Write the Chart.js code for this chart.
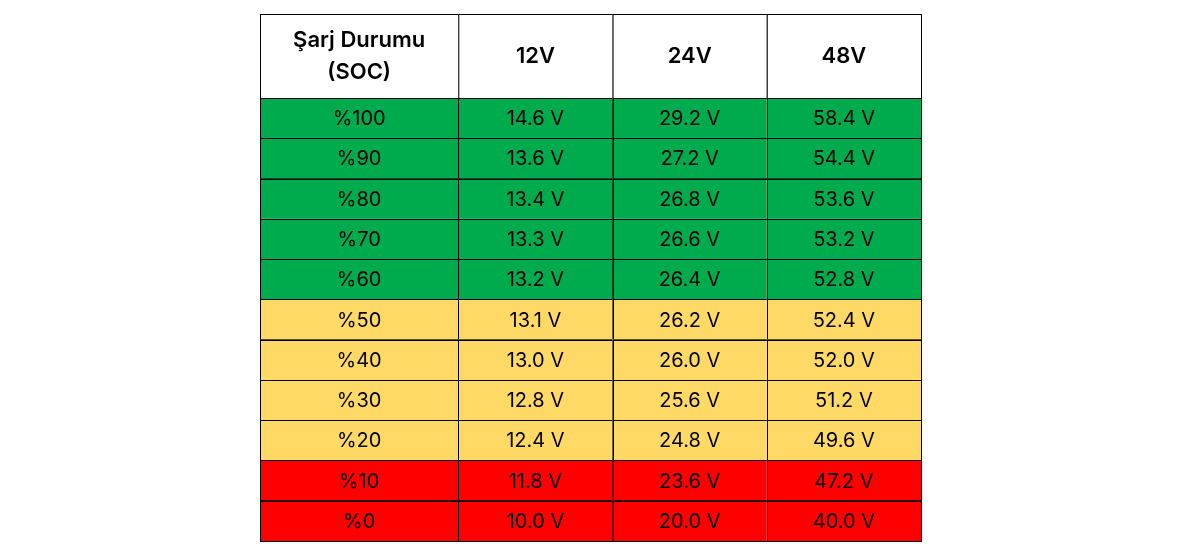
<!DOCTYPE html>
<html><head><meta charset="utf-8">
<script src="https://cdn.jsdelivr.net/npm/chart.js@4"></script>
<style>html,body{margin:0;background:#fff}#w{width:1181px;height:557px}</style>
</head><body><div id="w"><canvas id="c"></canvas></div>
<script>
const headers = ["Şarj Durumu\n(SOC)", "12V", "24V", "48V"];
const soc = ["%100","%90","%80","%70","%60","%50","%40","%30","%20","%10","%0"];
const v12 = [14.6,13.6,13.4,13.3,13.2,13.1,13.0,12.8,12.4,11.8,10.0];
const v24 = [29.2,27.2,26.8,26.6,26.4,26.2,26.0,25.6,24.8,23.6,20.0];
const v48 = [58.4,54.4,53.6,53.2,52.8,52.4,52.0,51.2,49.6,47.2,40.0];
const status = ["g","g","g","g","g","y","y","y","y","r","r"];
const colors = {g:"#00AB4E", y:"#FFD966", r:"#FF0000"};
const colEdges = [0,198,352,506,660];
const headerH = 84, rowH = 443/11;

const tablePlugin = {
  id:'table',
  beforeDatasetsDraw(chart){
    const ctx = chart.ctx, xs = chart.scales.x, ys = chart.scales.y;
    const X = v => xs.getPixelForValue(v), Y = v => ys.getPixelForValue(v);
    ctx.save();
    ctx.textAlign='center'; ctx.textBaseline='middle';
    ctx.strokeStyle='#000'; ctx.lineWidth=1;
    // header
    for(let c=0;c<4;c++){
      const x0=X(colEdges[c]), x1=X(colEdges[c+1]), y0=Y(0), y1=Y(headerH);
      ctx.fillStyle='#fff'; ctx.fillRect(x0,y0,x1-x0,y1-y0);
      ctx.strokeRect(x0+0.5,y0+0.5,x1-x0,y1-y0);
      ctx.fillStyle='#000'; ctx.font='600 22px Inter, "Noto Sans", sans-serif';
      const lines=headers[c].split('\n');
      lines.forEach((l,i)=>ctx.fillText(l,(x0+x1)/2,(y0+y1)/2+(i-(lines.length-1)/2)*32));
    }
    for(let r=0;r<soc.length;r++){
      const vals=[soc[r], v12[r].toFixed(1)+" V", v24[r].toFixed(1)+" V", v48[r].toFixed(1)+" V"];
      const y0=Y(headerH+r*rowH), y1=Y(headerH+(r+1)*rowH);
      for(let c=0;c<4;c++){
        const x0=X(colEdges[c]), x1=X(colEdges[c+1]);
        ctx.fillStyle=colors[status[r]]; ctx.fillRect(x0,y0,x1-x0,y1-y0);
        ctx.strokeRect(Math.round(x0)+0.5,Math.round(y0)+0.5,Math.round(x1-x0),Math.round(y1-y0));
        ctx.fillStyle='#000'; ctx.font='20px Inter, "Noto Sans", sans-serif';
        ctx.fillText(vals[c],(x0+x1)/2,(y0+y1)/2+1);
      }
    }
    ctx.restore();
  }
};

new Chart(document.getElementById('c'),{
  type:'scatter',
  data:{datasets:[{data:[]}]},
  options:{
    responsive:true, maintainAspectRatio:false, animation:false,
    layout:{padding:{left:260,right:260,top:14,bottom:16}},
    plugins:{legend:{display:false},tooltip:{enabled:false}},
    scales:{
      x:{type:'linear',min:0,max:colEdges[4],display:false},
      y:{type:'linear',min:0,max:headerH+rowH*soc.length,reverse:true,display:false}
    }
  },
  plugins:[tablePlugin]
});
</script></body></html>
